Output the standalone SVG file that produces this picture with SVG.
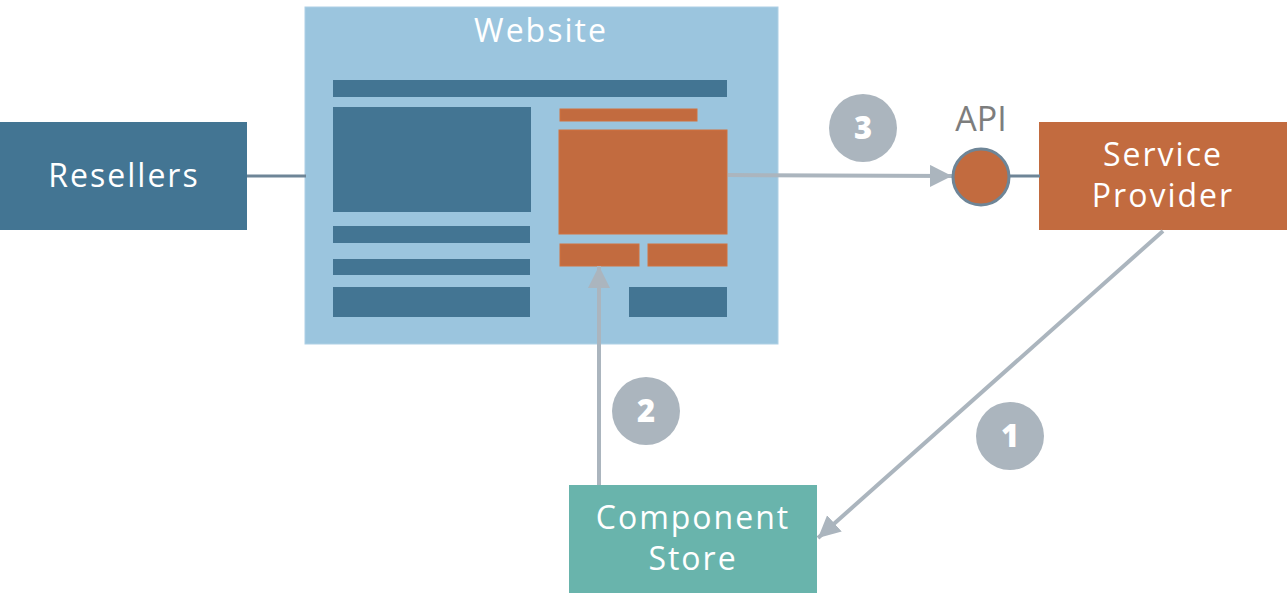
<svg xmlns="http://www.w3.org/2000/svg" width="1287" height="602" viewBox="0 0 1287 602">
<style>
.lbl{font-family:"Open Sans","Liberation Sans",sans-serif;font-size:32px;fill:#ffffff;text-anchor:middle;letter-spacing:2px}
.num{font-family:"Open Sans","Liberation Sans",sans-serif;font-size:31px;font-weight:800;fill:#ffffff;text-anchor:middle}
.badge{fill:#abb5be}
.dark{fill:#437593}
.org{fill:#c26b3f;stroke:#d2733f;stroke-width:1}
.flow{stroke:#abb5be;stroke-width:4;fill:none}
.link{stroke:#6e8597;stroke-width:3;fill:none}
</style>
<defs>
<marker id="ah" markerUnits="userSpaceOnUse" markerWidth="24" markerHeight="24" refX="22" refY="11" orient="auto">
<path d="M0,0 L22,11 L0,22 Z" fill="#abb5be"/>
</marker>
</defs>
<rect width="1287" height="602" fill="#ffffff"/>
<g id="resellers">
<rect class="dark" x="0" y="122" width="247" height="108"/>
<text class="lbl" x="124" y="187">Resellers</text>
</g>
<g id="website">
<rect x="305" y="7" width="473" height="337" fill="#9bc5de" stroke="#aed0e5" stroke-width="1"/>
<text class="lbl" x="541" y="42">Website</text>
<rect class="dark" x="333" y="80" width="394" height="17"/>
<rect class="dark" x="333" y="107" width="198" height="105"/>
<rect class="dark" x="333" y="226" width="197" height="17"/>
<rect class="dark" x="333" y="259" width="197" height="16"/>
<rect class="dark" x="333" y="287" width="197" height="30"/>
<rect class="dark" x="629" y="287" width="98" height="30"/>
<rect class="org" x="560" y="109" width="137" height="12"/>
<rect class="org" x="559" y="130" width="168" height="104"/>
<rect class="org" x="560" y="244" width="79" height="22"/>
<rect class="org" x="648" y="244" width="79" height="22"/>
</g>
<g id="service-provider">
<rect x="1039" y="122" width="248" height="108" fill="#c26b3f"/>
<text class="lbl" x="1163" y="166">Service</text>
<text class="lbl" x="1163" y="207">Provider</text>
</g>
<g id="component-store">
<rect x="569" y="485" width="248" height="108" fill="#69b4ac"/>
<text class="lbl" x="693" y="529">Component</text>
<text class="lbl" x="693" y="570">Store</text>
</g>
<g id="connectors">
<line class="link" x1="247" y1="176" x2="306" y2="176"/>
<line class="link" x1="1005" y1="176" x2="1040" y2="176"/>
<line class="flow" x1="728" y1="175" x2="952" y2="176" marker-end="url(#ah)"/>
<line class="flow" x1="599" y1="485" x2="599" y2="266" marker-end="url(#ah)"/>
<line class="flow" x1="1163" y1="231" x2="818" y2="538" marker-end="url(#ah)"/>
</g>
<g id="api">
<text x="981" y="131" font-family="'Open Sans','Liberation Sans',sans-serif" font-size="34" fill="#7d7d7d" text-anchor="middle">API</text>
<circle cx="981" cy="177" r="28" fill="#c26b3f" stroke="#6e8597" stroke-width="3"/>
</g>
<g id="badge-1">
<circle class="badge" cx="1010" cy="436" r="34"/>
<text class="num" x="1010" y="447">1</text>
</g>
<g id="badge-2">
<circle class="badge" cx="646" cy="411" r="34"/>
<text class="num" x="646" y="422">2</text>
</g>
<g id="badge-3">
<circle class="badge" cx="863" cy="128" r="34"/>
<text class="num" x="863" y="139">3</text>
</g>
</svg>
